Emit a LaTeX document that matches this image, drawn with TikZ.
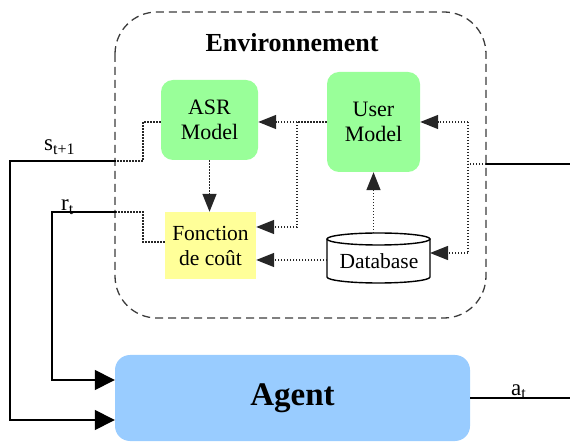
\documentclass[tikz,border=0pt]{standalone}
\usepackage{fontspec}
\setmainfont{Liberation Serif}
\usetikzlibrary{arrows.meta}
\definecolor{boxgreen}{RGB}{153,255,153}
\definecolor{boxyellow}{RGB}{255,255,153}
\definecolor{boxblue}{RGB}{153,204,255}
\definecolor{envgray}{RGB}{60,60,60}
\newcommand{\lblsub}[1]{\raisebox{-3.5pt}{\fontsize{16}{16}\selectfont #1}}
\tikzset{
  model/.style={fill=boxgreen, rounded corners=12pt, align=center, inner sep=0pt,
    font=\fontsize{22}{25}\selectfont},
  costbox/.style={fill=boxyellow, align=center, inner sep=0pt, font=\fontsize{21.5}{25}\selectfont},
  agentbox/.style={fill=boxblue, rounded corners=15pt, inner sep=0pt,
    font=\fontsize{33}{36}\selectfont\bfseries},
  envbox/.style={draw=envgray, dash pattern=on 8pt off 5pt, line width=1.3pt, rounded corners=42pt},
  dots/.style={draw=black!85, line width=1.4pt, dash pattern=on 1.4pt off 1.6pt},
  dotarrow/.style={dots, -{Triangle[length=18pt,width=14pt]}},
  solidline/.style={draw=black, line width=1.5pt},
  solidarrow/.style={solidline, -{Triangle[length=20pt,width=20pt]}},
  lbl/.style={inner sep=0pt, anchor=base west, font=\fontsize{23}{24}\selectfont},
}
\begin{document}
\begin{tikzpicture}[x=1pt, y=-1pt]
\useasboundingbox (0,0) rectangle (570,443);
% environment
\draw[envbox] (115,12) rectangle (486,318);
\node[font=\fontsize{26}{28}\selectfont\bfseries] (envtitle) at (292,43) {Environnement};
% nodes
\node[model, minimum width=97pt, minimum height=80pt] (asr) at (209.5,120) {ASR\\Model};
\node[model, minimum width=93pt, minimum height=100pt] (user) at (373.5,122) {User\\Model};
\node[costbox, minimum width=91pt, minimum height=67pt] (cost) at (210.5,245.5) {Fonction\\de coût};
\node[agentbox, minimum width=355pt, minimum height=86pt] (agent) at (292.5,398) {Agent};
% database cylinder
\fill[white] (327,239) rectangle (430,277);
\draw[line width=1.4pt, fill=white] (327,239) -- (327,277) arc[start angle=180, end angle=0, x radius=51.5, y radius=6] -- (430,239);
\draw[line width=1.4pt, fill=white] (378.5,239) ellipse[x radius=51.5, y radius=6];
\node[inner sep=0pt, font=\fontsize{21.5}{24}\selectfont, minimum width=103pt, minimum height=44pt] (db) at (379,261) {Database};
% coordinates
\coordinate (sin) at (116,161);
\coordinate (rin) at (116,212);
\coordinate (ain) at (486,164);
\coordinate (sl) at (10,161);
\coordinate (rl) at (52,212);
\coordinate (aout) at (570,398);
\coordinate (aenv) at (570,164);
% solid connectors
\draw[solidarrow] (sin) -- (sl) |- (agent.west |- 0,420);
\draw[solidarrow] (rin) -- (rl) |- (agent.west |- 0,380);
\draw[solidline] (agent.east |- aout) -- (aout);
\draw[solidline] (ain) -- (aenv);
\node[lbl] (slab) at (44,151) {s\lblsub{t+1}};
\node[lbl] (rlab) at (61,211) {r\lblsub{t}};
\node[lbl] (alab) at (511,395) {a\lblsub{t}};
% dotted connectors
\draw[dots] (asr.west |- 0,122) -- (143,122) -- (143,161) -- (sin);
\draw[dots] (cost.west |- 0,242) -- (143,242) -- (143,212) -- (rin);
\draw[dotarrow] (asr.south) -- (asr.south |- cost.north);
\draw[dots] (user.west |- 0,122) -- (297,122);
\draw[dotarrow] (297,122) -- (asr.east |- 0,122);
\draw[dotarrow] (297,122) -- (297,227) -- (cost.east |- 0,227);
\draw[dotarrow] (327,260) -- (cost.east |- 0,260);
\draw[dotarrow] (373.5,233) -- (user.south -| 373.5,0);
\draw[dots] (ain) -- (468,164);
\draw[dots] (468,122) -- (468,253);
\draw[dotarrow] (468,122) -- (user.east |- 0,122);
\draw[dotarrow] (468,253) -- (430,253);
\end{tikzpicture}
\end{document}
